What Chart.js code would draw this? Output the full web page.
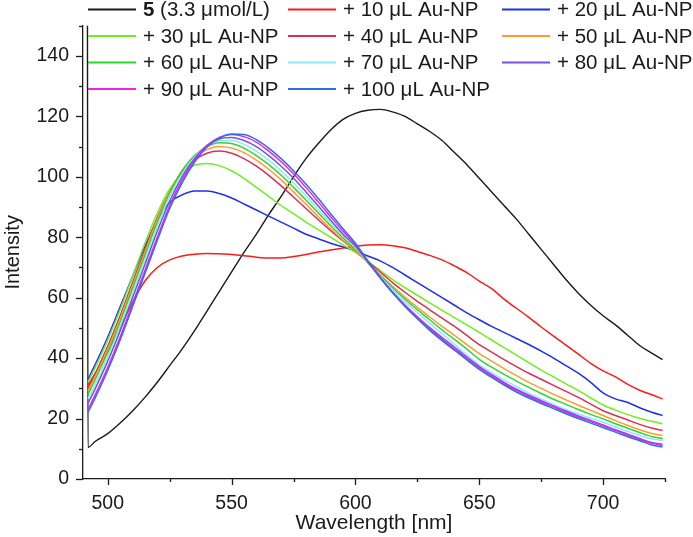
<!DOCTYPE html>
<html><head><meta charset="utf-8">
<script src="https://cdn.jsdelivr.net/npm/chart.js@4.4.1/dist/chart.umd.min.js"></script>
<style>html,body{margin:0;padding:0;background:#fff}#wrap{width:693px;height:537px;position:relative}</style>
</head><body><div id="wrap"><canvas id="c" width="693" height="537"></canvas></div>
<script>
// ---- data ----
const wavelengths = [492,495,500,505,510,515,520,525,530,535,540,545,550,555,560,565,570,575,580,585,590,595,600,605,610,615,620,625,630,635,640,645,650,655,660,665,670,675,680,685,690,695,700,705,710,715,720,724];
const seriesLabels = ["5 (3.3 μmol/L)","+ 10 μL Au-NP","+ 20 μL Au-NP","+ 30 μL Au-NP","+ 40 μL Au-NP","+ 50 μL Au-NP","+ 60 μL Au-NP","+ 70 μL Au-NP","+ 80 μL Au-NP","+ 90 μL Au-NP","+ 100 μL Au-NP"];
const seriesColors = ["#1a1a1a","#ff1a1a","#1f2fee","#6ef020","#dc3050","#ff9a30","#2fd62f","#90e8ff","#7a4ee8","#f020e6","#2a70e6"];
// black curve starts with a spike at the detector edge
const blackStart = {x: 491.8, y: 151};
const s0   = [10.5,12.5,15,18.5,22.5,27,32,37.5,43,49,55.5,62,68.5,75,81,87.5,93.5,100,106,111,115.5,119,121,122,122.3,121.5,120,117.5,115,112,108,104,99.5,95,90.5,86,81,76,71,66,61.5,57.5,54,51,47.5,44,41.5,39.5];
const s10  = [31,35,42,50,58.5,65.5,70,72.5,73.8,74.4,74.6,74.5,74.3,73.9,73.4,73.1,73.1,73.6,74.3,75.1,75.8,76.4,77,77.4,77.5,77.2,76.5,75.3,74,72.5,70.5,68.3,65.5,63,59.5,56.5,53.5,50.3,47.3,44.3,41.3,38.3,35.8,33.8,31.3,29.3,27.8,26.5];
const s20  = [33,38,47,57,67,77,85.5,91.5,94,95.3,95.3,94.5,93,91,89,87,85,83,81,79.5,78,76.8,75.5,73.8,72.2,70,67.5,65,62.5,60,57.5,55,52.7,50.5,48.5,46.5,44.5,42.3,40,37.5,35,32,28.5,26.5,25.3,23.5,22,21];
const s30  = [32,37,46,56,67,78,88,96,101,103.8,104.4,103.7,102,99.5,96.5,93.5,90.5,87.8,85,82.5,80,77.5,75,72,69,66,63.3,60.8,58.3,55.8,53.4,51,48.5,46,43.5,41,38.5,36,33.8,31.5,29.3,26.8,24.5,22.8,21.3,20,19,18.3];
const s40  = [30,35,44,54,65,76,86.5,95,101.5,105.5,107.8,108.5,107.8,106,103.5,100.5,97,93.3,89.5,85.8,82.2,78.8,75.5,72,68.5,65,61.8,58.8,56,53.2,50.5,47.5,44.5,42,39.5,37.2,35,33,31,29,27,24.8,22.6,21,19.5,18,16.8,16.1];
const s50  = [29,34,43,53,64,75,86,95,102,106.5,109,110,109.5,108,105.5,102.5,99,95,91,86.8,82.8,79,75.5,71.6,67.6,63.8,60.2,56.8,53.6,50.5,47.5,44.5,41.5,39,36.5,34.2,32,30,28,26.2,24.4,22.7,21,19.3,17.7,16.2,15,14.4];
const s60  = [28,33,42,52,63,74,85,94.5,102,107,110,111.3,111,109.5,107,104,100.5,96.5,92.3,88,83.8,79.8,76,71.6,67.3,63.3,59.5,56,52.7,49.3,46.2,43,39.6,37,34.6,32.4,30.3,28.3,26.4,24.7,23,21.4,19.9,18.3,16.8,15.3,14,13.4];
const s70  = [26.5,31.5,40.5,50.5,61.5,72.5,83.5,93.5,101,106.5,110.2,111.9,112,110.8,108.5,105.5,102,98,93.7,89.2,84.8,80.5,76.5,71.6,66.9,62.6,58.6,55,51.5,48,44.5,41,37.8,35.2,32.8,30.6,28.4,26.5,24.7,23,21.5,20.1,18.8,17.2,15.7,14.3,13.2,12.8];
const s80  = [25,30,39,49,60,71,82,92,100,106,110.3,112.5,113,112,110,107,103.5,99.5,95,90.3,85.6,81,77,71.8,66.6,61.9,57.6,53.7,50.1,46.8,43.6,40.3,37.2,34.5,32,29.7,27.7,25.9,24.2,22.5,20.9,19.4,17.9,16.3,14.8,13.3,12,11.5];
const s90  = [23,28,37,47,58,69,80,90.5,99,105.5,110.3,113,114,113.3,111.5,108.5,105,101,96.5,91.7,86.8,82,77.5,72,66.6,61.7,57.3,53.3,49.6,46.2,43,39.8,36.8,34.1,31.6,29.3,27.3,25.5,23.8,22.1,20.5,19,17.5,16,14.5,13,11.7,11.1];
const s100 = [22,27,36,46,57,68,79,89.5,98,104.8,109.8,112.8,114.2,114,112.3,109.5,106,102,97.6,92.8,87.8,82.8,78,72.2,66.7,61.6,57.1,53,49.2,45.8,42.6,39.4,36.3,33.6,31.1,28.8,26.8,25,23.3,21.6,20,18.5,17,15.5,14,12.6,11.2,10.6];
const seriesValues = [s0,s10,s20,s30,s40,s50,s60,s70,s80,s90,s100];
const xMajorTicks = [500,550,600,650,700];
const xMinorTicks = [525,575,625,675,725];
const yMajorTicks = [0,20,40,60,80,100,120,140];
const yMinorTicks = [10,30,50,70,90,110,130,150];

const FONT = '"Liberation Sans", Arial, sans-serif';
const TXT = '#1a1a1a';

const datasets = seriesValues.map((vals, i) => {
  const pts = wavelengths.map((w, k) => ({x: w, y: vals[k]}));
  if (i === 0) pts.unshift(blackStart);
  return {
    label: seriesLabels[i],
    data: pts,
    borderColor: seriesColors[i],
    borderWidth: i === 0 ? 1.4 : 1.5,
    pointRadius: 0,
    fill: false,
    cubicInterpolationMode: 'monotone',
    order: 10 - i
  };
});

const tickPlugin = {
  id: 'minorMajorTicks',
  afterDraw(chart) {
    const {ctx, chartArea: a, scales: {x, y}} = chart;
    ctx.save();
    ctx.strokeStyle = TXT;
    ctx.lineWidth = 1.3;
    const drawY = (v, len) => {
      const py = Math.round(y.getPixelForValue(v)) + 0.5;
      ctx.beginPath(); ctx.moveTo(a.left, py); ctx.lineTo(a.left - len, py); ctx.stroke();
    };
    const drawX = (v, len) => {
      const px = Math.round(x.getPixelForValue(v)) + 0.5;
      ctx.beginPath(); ctx.moveTo(px, a.bottom); ctx.lineTo(px, a.bottom + len); ctx.stroke();
    };
    yMajorTicks.forEach(v => drawY(v, 7));
    yMinorTicks.forEach(v => drawY(v, 4));
    xMajorTicks.forEach(v => drawX(v, 6));
    xMinorTicks.forEach(v => drawX(v, 3));
    ctx.restore();
  }
};

const legendPlugin = {
  id: 'overlayLegend',
  afterDraw(chart) {
    const ctx = chart.ctx;
    const colX = [88, 288, 502];
    const rowY = [9.5, 36, 62.5, 89];
    ctx.save();
    chart.data.datasets.forEach((ds, i) => {
      const x = colX[i % 3], yy = rowY[Math.floor(i / 3)];
      ctx.strokeStyle = ds.borderColor;
      ctx.lineWidth = 2;
      ctx.beginPath(); ctx.moveTo(x, yy); ctx.lineTo(x + 48, yy); ctx.stroke();
      ctx.fillStyle = TXT;
      ctx.textAlign = 'left';
      ctx.textBaseline = 'middle';
      let tx = x + 55;
      const ty = yy + 1;
      if (i === 0) {
        const first = ds.label.slice(0, 1), rest = ds.label.slice(1);
        ctx.font = 'bold 20.5px ' + FONT;
        ctx.fillText(first, tx, ty);
        tx += ctx.measureText(first).width;
        ctx.font = '20.5px ' + FONT;
        ctx.fillText(rest, tx, ty);
      } else {
        ctx.font = '20.5px ' + FONT;
        ctx.fillText(ds.label, tx, ty);
      }
    });
    ctx.restore();
  }
};

new Chart(document.getElementById('c'), {
  type: 'line',
  data: {datasets},
  options: {
    responsive: false,
    animation: false,
    devicePixelRatio: 1,
    layout: {padding: {top: 22, right: 28, left: 0, bottom: 0}},
    plugins: {legend: {display: false}, tooltip: {enabled: false}},
    scales: {
      x: {
        type: 'linear', min: 490, max: 725,
        afterBuildTicks: s => { s.ticks = xMajorTicks.map(v => ({value: v})); },
        afterFit: s => { s.height = 58; },
        grid: {display: false, drawTicks: false},
        border: {display: true, color: TXT, width: 1.3},
        ticks: {color: TXT, font: {family: FONT, size: 19.5}, padding: 13, maxRotation: 0},
        title: {display: true, text: 'Wavelength [nm]', color: TXT, font: {family: FONT, size: 21}, padding: {top: 0, bottom: 1}}
      },
      y: {
        type: 'linear', min: 0, max: 150,
        afterBuildTicks: s => { s.ticks = yMajorTicks.map(v => ({value: v})); },
        afterFit: s => { s.width = 83; },
        grid: {display: false, drawTicks: false},
        border: {display: true, color: TXT, width: 1.3},
        ticks: {color: TXT, font: {family: FONT, size: 19.5}, padding: 14},
        title: {display: true, text: 'Intensity', color: TXT, font: {family: FONT, size: 20}, padding: {top: 1, bottom: 0}}
      }
    }
  },
  plugins: [tickPlugin, legendPlugin]
});
</script>
</body></html>
